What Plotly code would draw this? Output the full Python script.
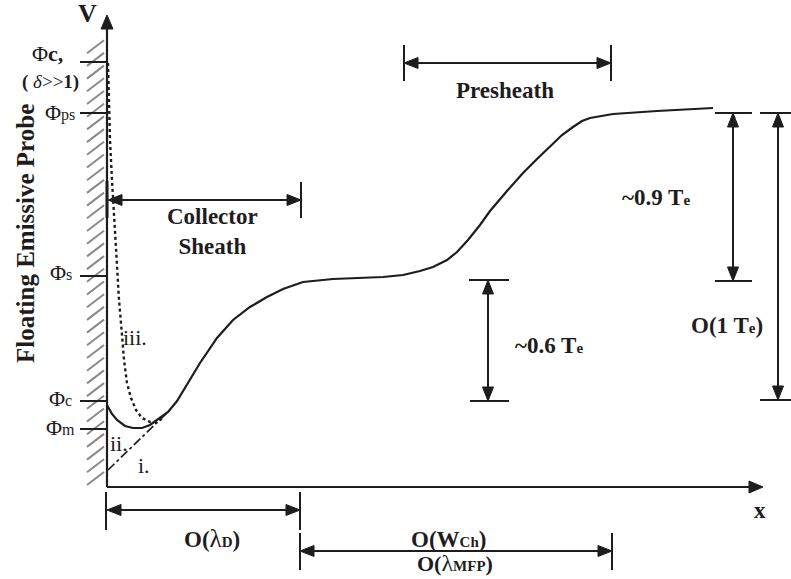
import numpy as np
import plotly.graph_objects as go

# ---------------- data (diagram units: x from probe surface, V above x axis) ----------------
# Solid potential profile (collector sheath + presheath)
profile_x = [0, 5, 10, 18, 26, 35, 43, 53, 61, 70, 78, 93, 110, 126, 143, 160, 176, 196, 226,
             276, 296, 313, 326, 340, 350, 361, 373, 383, 400, 416, 430, 443, 455, 466, 475,
             483, 493, 506, 550, 606]
profile_v = [82, 73, 67, 61, 59, 59, 62, 69, 75, 86, 99, 124, 149, 167, 180, 190, 198, 205, 208,
             210, 212, 216, 220, 227, 235, 247, 262, 276, 296, 314, 328, 341, 352, 360, 366,
             369, 371, 373, 376, 379]
# Case iii (strong emission, dotted)
case_iii_x = [1, 2, 3, 5, 7, 10, 12, 15, 17, 20, 24, 29, 35, 43, 50, 56]
case_iii_v = [424, 387, 347, 307, 270, 227, 187, 152, 127, 104, 89, 77, 69, 65, 65, 69]
# Case i (no emission, dash-dot)
case_i_x = [1, 63]
case_i_v = [17, 77]

# Potential levels on the V axis
level_labels = ["Φ<b>c,</b>", "Φ<span style='font-size:16px'>ps</span>",
                "Φ<span style='font-size:16px'>s</span>", "Φ<span style='font-size:16px'>c</span>",
                "Φ<span style='font-size:16px'>m</span>"]
level_values = [425, 374, 211, 86, 58]
level_label_v = [434, 375, 215, 89, 60]
level_label_x = [-42, -30, -33, -33, -30]

# Scale markers
plateau_v = 207
top_v = 375
phi_c_v = 86
sheath_edge_x = 193
presheath_x = [297, 504]
wch_end_x = 505

AX_END_X = 656
AX_END_V = 472

BLACK = "#1e1c1d"
FONT = "Liberation Serif, Times New Roman, serif"

fig = go.Figure()

fig.add_trace(go.Scatter(x=profile_x, y=profile_v, mode="lines",
                         line=dict(color=BLACK, width=2.2), hoverinfo="skip"))
fig.add_trace(go.Scatter(x=case_iii_x, y=case_iii_v, mode="lines",
                         line=dict(color=BLACK, width=2.4, dash="dot"), hoverinfo="skip"))
fig.add_trace(go.Scatter(x=case_i_x, y=case_i_v, mode="lines",
                         line=dict(color=BLACK, width=1.7, dash="dashdot"), hoverinfo="skip"))

shapes = []


def line(x0, y0, x1, y1, w=2, color=BLACK):
    shapes.append(dict(type="line", x0=x0, y0=y0, x1=x1, y1=y1, xref="x", yref="y",
                       line=dict(color=color, width=w)))


def head(tx, ty, dx, dy, L=14, H=5.5):
    bx, by = tx - L * dx, ty - L * dy
    px, py = -dy, dx
    path = (f"M {tx},{ty} L {bx + H * px},{by + H * py} "
            f"L {bx - H * px},{by - H * py} Z")
    shapes.append(dict(type="path", path=path, xref="x", yref="y",
                       fillcolor=BLACK, line=dict(color=BLACK, width=1)))


def vdouble(x, v0, v1, half0, half1):
    line(x - half0[0], v0, x + half0[1], v0)
    line(x - half1[0], v1, x + half1[1], v1)
    line(x, v0 + 6, x, v1 - 6)
    head(x, v0, 0, -1)
    head(x, v1, 0, 1)


def hdouble(v, x0, x1):
    line(x0 + 6, v, x1 - 6, v)
    head(x0, v, -1, 0)
    head(x1, v, 1, 0)


# hatching of the probe wall
for hv in np.arange(2, 445, 12.7):
    line(-20, hv, -3, hv + 13, w=2, color="#8a8a8a")

# axes
line(0, 0, 0, AX_END_V - 8, w=2.2)
head(0, AX_END_V, 0, 1, L=14, H=6)
line(0, 0, AX_END_X - 8, 0, w=2.2)
head(AX_END_X, 0, 1, 0, L=14, H=6)

# level ticks
for lv in level_values:
    line(-27, lv, 0, lv, w=2)

# right-side scale arrows
vdouble(381, phi_c_v, plateau_v, (18, 21), (19, 21))
vdouble(626, plateau_v - 1, top_v - 1, (18, 19), (18, 19))
vdouble(671, phi_c_v + 1, top_v - 1, (18, 14), (18, 14))

# presheath bracket
line(presheath_x[0], 406, presheath_x[0], 442)
line(presheath_x[1], 406, presheath_x[1], 442)
hdouble(424, presheath_x[0], presheath_x[1])

# collector sheath bracket
line(0, 269, 0, 306, w=3)
line(sheath_edge_x + 1, 269, sheath_edge_x + 1, 305)
hdouble(287, 1, sheath_edge_x + 1)

# lambda_D bracket
line(-1, -5, -1, -43)
line(sheath_edge_x, -5, sheath_edge_x, -43)
hdouble(-23, 0, sheath_edge_x)

# W_Ch bracket
line(sheath_edge_x, -46, sheath_edge_x, -83)
line(wch_end_x, -46, wch_end_x, -83)
hdouble(-64, sheath_edge_x, wch_end_x)

ann = []


def text(x, y, t, size=23, bold=True, xanchor="center", angle=0):
    ann.append(dict(x=x, y=y, xref="x", yref="y", text=(f"<b>{t}</b>" if bold else t),
                    showarrow=False, xanchor=xanchor, yanchor="middle", textangle=angle,
                    font=dict(family=FONT, size=size, color=BLACK)))


for lab, lv, lx in zip(level_labels, level_label_v, level_label_x):
    text(lx, lv, lab, size=22, bold=False, xanchor="right")
text(-57, 405, "<b>(</b> <i>δ</i>>><b>1)</b>", size=19, bold=False)

sub = "<span style='font-size:15px'>{}</span>"
text(-20, 474, "V", size=26)
text(653, -23, "x", size=23)
text(-82, 253, "Floating Emissive Probe", size=25, angle=-90)
text(105, 256, "Collector<br>Sheath", size=23)
text(398, 397, "Presheath", size=23)
text(549, 290, "~0.9 T" + sub.format("e"), size=23)
text(442, 142, "~0.6 T" + sub.format("e"), size=23)
text(620, 162, "O(1 T" + sub.format("e") + ")", size=23)
text(105, -51, "O(</b><span style='font-size:25px'>λ</span><b>" + sub.format("D") + ")", size=23)
text(341, -52, "O(W" + sub.format("Ch") + ")", size=23)
text(348, -76, "O(</b><span style='font-size:24px'>λ</span><b>" + sub.format("MFP") + ")", size=22)
text(28, 150, "iii.", size=22, bold=False)
text(12, 44, "ii.", size=22, bold=False)
text(37, 22, "i.", size=22, bold=False)

fig.update_layout(
    width=791, height=579, margin=dict(l=0, r=0, t=0, b=0),
    paper_bgcolor="white", plot_bgcolor="white", showlegend=False,
    xaxis=dict(range=[-107, 684], visible=False, fixedrange=True),
    yaxis=dict(range=[-92, 487], visible=False, fixedrange=True),
    shapes=shapes, annotations=ann,
)

fig.write_html("out.html")
